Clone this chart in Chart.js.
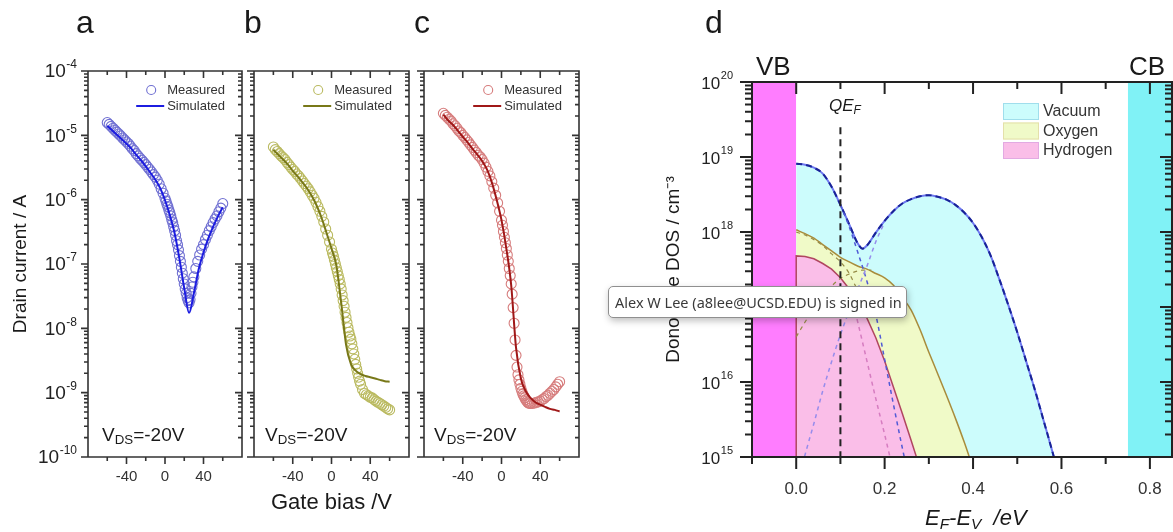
<!DOCTYPE html>
<html>
<head>
<meta charset="utf-8">
<title>Transfer curves and donor-like DOS</title>
<script src="https://cdn.jsdelivr.net/npm/chart.js@4.4.1/dist/chart.umd.min.js"></script>
<style>
  body { margin: 0; background: #fff; }
  #fig { position: relative; width: 1173px; height: 532px; overflow: hidden; font-family: "Liberation Sans", Arial, sans-serif; color: #1a1a1a; }
  #fig canvas { position: absolute; left: 0; top: 0; }
  .txt { position: absolute; line-height: 1; white-space: nowrap; }
  .txt sub { font-size: 70%; vertical-align: -0.25em; line-height: 0; }
  #signin { position: absolute; left: 608px; top: 286px; width: 299px; height: 32px; box-sizing: border-box;
            border: 1px solid #8f8f8f; border-radius: 5px; background: #fff; box-shadow: 1px 3px 7px rgba(0,0,0,0.25);
            font-family: "Noto Sans", sans-serif; font-size: 14.5px; color: #3a3a3a; line-height: 30px; padding-left: 6px;
            white-space: nowrap; overflow: hidden; z-index: 5; }
</style>
</head>
<body>
<div id="fig">
  <canvas id="chartD" width="1173" height="532"></canvas>
  <canvas id="chartA" width="1173" height="532"></canvas>
  <canvas id="chartB" width="1173" height="532"></canvas>
  <canvas id="chartC" width="1173" height="532"></canvas>

  <div class="txt" style="left:76px;top:6px;font-size:32px">a</div>
  <div class="txt" style="left:244px;top:6px;font-size:32px">b</div>
  <div class="txt" style="left:414px;top:6px;font-size:32px">c</div>
  <div class="txt" style="left:705px;top:6px;font-size:32px">d</div>

  <div class="txt" style="left:102px;top:425px;font-size:19px">V<sub>DS</sub>=-20V</div>
  <div class="txt" style="left:265px;top:425px;font-size:19px">V<sub>DS</sub>=-20V</div>
  <div class="txt" style="left:434px;top:425px;font-size:19px">V<sub>DS</sub>=-20V</div>

  <div class="txt" style="left:756px;top:53px;font-size:26px">VB</div>
  <div class="txt" style="left:1129px;top:53px;font-size:26px">CB</div>
  <div class="txt" style="left:829px;top:97px;font-size:17px;font-style:italic">QE<sub>F</sub></div>
  <div class="txt" style="left:925px;top:507px;font-size:22px;font-style:italic">E<sub>F</sub>-E<sub>V</sub>&nbsp; /eV</div>

  <div id="signin">Alex W Lee (a8lee@UCSD.EDU) is signed in</div>
</div>

<script>
var FONT = '"Liberation Sans", Arial, sans-serif';
Chart.defaults.font.family = FONT;

// ---- panels a-c: transfer curves ----
var gateV = [-60,-58,-56,-54,-52,-50,-48,-46,-44,-42,
             -40,-38,-36,-34,-32,-30,-28,-26,-24,-22,
             -20,-18,-16,-14,-12,-10,-8,-6,-4,-2,
             0,1,2,3,4,5,6,7,8,9,
             10,11,12,13,14,15,16,17,18,19,
             20,21,22,23,24,25,26,27,28,29,
             30,32,34,36,38,40,42,44,46,48,
             50,52,54,56,58,60];
var simV = [-60,-55,-50,-45,-40,-35,-30,-25,-20,-15,-10,-5,0,5,10,15,20,25,30,35,40,45,50,55,60];

var measuredA = [1.58e-5,1.48e-5,1.38e-5,1.29e-5,1.20e-5,1.12e-5,1.05e-5,9.8e-6,9.1e-6,8.5e-6,
                 7.9e-6,7.4e-6,6.8e-6,6.2e-6,5.8e-6,5.2e-6,4.8e-6,4.4e-6,4.1e-6,3.8e-6,
                 3.5e-6,3.2e-6,2.95e-6,2.69e-6,2.45e-6,2.24e-6,2.0e-6,1.74e-6,1.48e-6,1.26e-6,
                 1.05e-6,9.5e-7,8.5e-7,7.8e-7,6.9e-7,6.3e-7,5.6e-7,4.9e-7,4.4e-7,3.8e-7,
                 3.3e-7,2.8e-7,2.3e-7,2.0e-7,1.66e-7,1.35e-7,1.10e-7,8.9e-8,7.2e-8,5.9e-8,
                 4.9e-8,4.1e-8,3.5e-8,3.0e-8,2.7e-8,2.5e-8,2.8e-8,3.5e-8,4.4e-8,5.2e-8,
                 6.3e-8,8.5e-8,1.10e-7,1.38e-7,1.70e-7,2.0e-7,2.4e-7,2.8e-7,3.3e-7,3.8e-7,
                 4.4e-7,5.0e-7,5.6e-7,6.5e-7,7.4e-7,8.7e-7];
var simulatedA = [1.41e-5,1.20e-5,1.02e-5,8.7e-6,7.4e-6,6.2e-6,5.0e-6,4.1e-6,3.3e-6,2.6e-6,2.04e-6,1.51e-6,
                  9.8e-7,5.75e-7,3.0e-7,1.20e-7,4.2e-8,1.74e-8,3.5e-8,8.3e-8,1.51e-7,2.5e-7,3.8e-7,5.5e-7,7.6e-7];

var measuredB = [6.6e-6,6.0e-6,5.6e-6,5.2e-6,4.8e-6,4.5e-6,4.2e-6,3.8e-6,3.5e-6,3.2e-6,
                 2.95e-6,2.75e-6,2.5e-6,2.34e-6,2.14e-6,1.95e-6,1.78e-6,1.62e-6,1.48e-6,1.32e-6,
                 1.17e-6,1.05e-6,9.1e-7,7.8e-7,6.6e-7,5.5e-7,4.5e-7,3.5e-7,2.8e-7,2.2e-7,
                 1.70e-7,1.48e-7,1.32e-7,1.15e-7,1.0e-7,8.7e-8,7.6e-8,6.6e-8,5.75e-8,4.9e-8,
                 4.1e-8,3.3e-8,2.7e-8,2.2e-8,1.78e-8,1.48e-8,1.23e-8,1.02e-8,8.7e-9,7.6e-9,
                 6.8e-9,5.75e-9,4.8e-9,4.0e-9,3.3e-9,2.75e-9,2.34e-9,2.0e-9,1.74e-9,1.51e-9,
                 1.35e-9,1.12e-9,9.8e-10,9.3e-10,8.9e-10,8.5e-10,8.3e-10,7.8e-10,7.4e-10,7.1e-10,
                 6.8e-10,6.5e-10,6.2e-10,5.9e-10,5.6e-10,5.4e-10];
var simulatedB = [6.0e-6,5.0e-6,4.2e-6,3.5e-6,2.8e-6,2.3e-6,1.86e-6,1.48e-6,1.12e-6,7.9e-7,5.1e-7,3.0e-7,
                  1.74e-7,9.5e-8,2.5e-8,5.6e-9,2.8e-9,2.2e-9,1.95e-9,1.82e-9,1.74e-9,1.66e-9,1.58e-9,1.51e-9,1.48e-9];

var measuredC = [2.2e-5,2.04e-5,1.91e-5,1.78e-5,1.66e-5,1.51e-5,1.41e-5,1.29e-5,1.17e-5,1.10e-5,
                 1.0e-5,9.3e-6,8.5e-6,7.8e-6,7.1e-6,6.5e-6,5.9e-6,5.4e-6,4.9e-6,4.6e-6,
                 4.2e-6,3.7e-6,3.2e-6,2.75e-6,2.34e-6,1.91e-6,1.51e-6,1.17e-6,8.9e-7,6.6e-7,
                 4.8e-7,4.0e-7,3.2e-7,2.6e-7,2.14e-7,1.74e-7,1.38e-7,1.10e-7,8.5e-8,6.6e-8,
                 4.9e-8,3.4e-8,2.1e-8,1.20e-8,6.6e-9,3.8e-9,2.5e-9,1.9e-9,1.58e-9,1.35e-9,
                 1.17e-9,1.05e-9,9.5e-10,8.9e-10,8.3e-10,7.8e-10,7.4e-10,7.1e-10,6.9e-10,6.8e-10,
                 6.8e-10,6.8e-10,6.9e-10,7.1e-10,7.2e-10,7.4e-10,7.8e-10,8.1e-10,8.7e-10,9.1e-10,
                 9.8e-10,1.05e-9,1.12e-9,1.23e-9,1.35e-9,1.48e-9];
var simulatedC = [2.1e-5,1.70e-5,1.45e-5,1.17e-5,9.5e-6,7.8e-6,6.2e-6,5.0e-6,4.0e-6,2.95e-6,1.86e-6,1.0e-6,
                  4.8e-7,1.74e-7,4.7e-8,5.0e-9,1.66e-9,1.05e-9,8.3e-10,7.1e-10,6.5e-10,6.0e-10,5.6e-10,5.4e-10,5.1e-10];

var gateTicks = [-40, 0, 40];
var gateMinor = [-60, -20, 20, 60];
var currentTicks = [1e-10, 1e-9, 1e-8, 1e-7, 1e-6, 1e-5, 1e-4];

// ---- panel d: donor-like DOS ----
var vacuumE = [0,0.02,0.04,0.06,0.08,0.10,0.12,0.14,0.15,0.16,0.18,0.20,0.22,0.24,0.26,0.28,
               0.30,0.32,0.34,0.36,0.38,0.40,0.42,0.44,0.46,0.48,0.50,0.52,0.54,0.56,0.58,0.60];
var vacuumDOS = [8.1e18,7.9e18,7.2e18,6.0e18,4.0e18,2.3e18,1.26e18,6.9e17,6.0e17,6.6e17,9.8e17,1.41e18,1.91e18,2.4e18,2.75e18,3.0e18,
                 3.1e18,2.95e18,2.7e18,2.3e18,1.82e18,1.32e18,8.5e17,4.8e17,2.3e17,1.05e17,4.6e16,1.9e16,7.8e15,3.0e15,1.15e15,4.2e14];
var vacShallowE = [0.10,0.12,0.14,0.16,0.18,0.20,0.22,0.24,0.25];
var vacShallowDOS = [2.3e18,1.17e18,5.2e17,2.2e17,7.9e16,2.0e16,5.0e15,1.32e15,7.1e14];
var vacDeepE = [0.01,0.02,0.04,0.06,0.08,0.10,0.12,0.14,0.16,0.18,0.20];
var vacDeepDOS = [6.3e14,1.07e15,2.8e15,7.6e15,1.86e16,4.3e16,8.9e16,1.78e17,3.5e17,7.4e17,1.35e18];

var oxygenE = [0,0.02,0.04,0.06,0.08,0.10,0.12,0.14,0.16,0.18,0.20,0.22,0.24,0.26,0.28,0.30,0.32,0.34,0.36,0.38,0.40];
var oxygenDOS = [1.07e18,9.5e17,8.3e17,6.8e17,5.6e17,4.6e17,4.0e17,3.5e17,3.2e17,2.8e17,2.45e17,
                 1.95e17,1.35e17,9.1e16,5.0e16,2.5e16,1.29e16,6.6e15,3.3e15,1.58e15,7.1e14];
var oxyShallowE = [0,0.02,0.04,0.06,0.08,0.10,0.12,0.14];
var oxyShallowDOS = [1.0e18,9.1e17,7.9e17,6.6e17,5.1e17,4.0e17,2.8e17,1.6e17];
var oxyDeepE = [0,0.02,0.05,0.08,0.10,0.12,0.15,0.17];
var oxyDeepDOS = [4.0e16,6.3e16,1.2e17,1.9e17,2.4e17,2.75e17,3.1e17,3.1e17];

var hydrogenE = [0,0,0.02,0.04,0.06,0.08,0.10,0.12,0.14,0.16,0.18,0.20,0.22,0.24,0.26,0.28];
var hydrogenDOS = [1e15,4.8e17,4.7e17,4.4e17,3.8e17,3.2e17,2.45e17,1.74e17,1.15e17,7.1e16,3.9e16,1.9e16,8.5e15,3.8e15,1.66e15,7.1e14];
var hydTailE = [0.12,0.14,0.16,0.18,0.20,0.22];
var hydTailDOS = [1.78e17,6.0e16,1.9e16,6.0e15,2.0e15,6.3e14];

var qefE = [0.1, 0.1];
var qefDOS = [2.5e19, 1e15];
var vbE = [-0.1, 0];
var cbE = [0.75, 0.85];
var bandTop = [1e20, 1e20];

var energyTicks = [0, 0.2, 0.4, 0.6, 0.8];
var energyMinor = [-0.1, 0.1, 0.3, 0.5, 0.7];
var dosTicks = [1e15, 1e16, 1e17, 1e18, 1e19, 1e20];

function pts(xs, ys) {
  return xs.map(function (x, i) { return { x: x, y: ys[i] }; });
}

// box frame with Origin-style ticks (out on left/bottom, in on right/top) and 10^n labels
function axesFrame(cfg) {
  return {
    id: 'axesFrame',
    afterDatasetsDraw: function (chart) {
      var ctx = chart.ctx, a = chart.chartArea, sx = chart.scales.x, sy = chart.scales.y;
      ctx.save();
      ctx.strokeStyle = cfg.color;
      ctx.lineWidth = cfg.width;
      ctx.beginPath();
      ctx.rect(a.left, a.top, a.right - a.left, a.bottom - a.top);
      var yTick = function (v, len) {
        var p = sy.getPixelForValue(v);
        ctx.moveTo(a.left - len, p); ctx.lineTo(a.left, p);
        ctx.moveTo(a.right - len, p); ctx.lineTo(a.right, p);
      };
      var xTick = function (v, len) {
        var p = sx.getPixelForValue(v);
        ctx.moveTo(p, a.bottom); ctx.lineTo(p, a.bottom + len);
        ctx.moveTo(p, a.top); ctx.lineTo(p, a.top + len);
      };
      cfg.yMajor.forEach(function (v) { yTick(v, cfg.major); });
      for (var i = 0; i < cfg.yMajor.length - 1; i++) {
        for (var m = 2; m < 10; m++) yTick(cfg.yMajor[i] * m, cfg.minor);
      }
      cfg.xMajor.forEach(function (v) { xTick(v, cfg.major); });
      cfg.xMinor.forEach(function (v) { xTick(v, cfg.minor); });
      ctx.stroke();

      if (cfg.labels) {
        ctx.fillStyle = '#222';
        ctx.textAlign = 'right';
        ctx.textBaseline = 'middle';
        cfg.yMajor.forEach(function (v) {
          var py = sy.getPixelForValue(v);
          var exp = String(Math.round(Math.log10(v)));
          var xr = a.left - cfg.gap;
          ctx.font = cfg.supSize + 'px ' + FONT;
          var w = ctx.measureText(exp).width;
          ctx.fillText(exp, xr, py - cfg.supRise);
          ctx.font = cfg.labelSize + 'px ' + FONT;
          ctx.fillText('10', xr - w - 0.5, py + cfg.baseDrop);
        });
      }
      ctx.restore();
    }
  };
}

var transferKey = {
  id: 'transferKey',
  afterDatasetsDraw: function (chart) {
    var ctx = chart.ctx, a = chart.chartArea;
    var sim = chart.data.datasets[0], meas = chart.data.datasets[1];
    ctx.save();
    ctx.font = '13px ' + FONT;
    ctx.fillStyle = '#333';
    ctx.textBaseline = 'middle';
    ctx.textAlign = 'left';
    var w = Math.max(ctx.measureText(meas.label).width, ctx.measureText(sim.label).width);
    var tx = a.right - 17 - w;
    var y1 = a.top + 19, y2 = a.top + 35;
    ctx.fillText(meas.label, tx, y1);
    ctx.fillText(sim.label, tx, y2);
    ctx.strokeStyle = meas.borderColor;
    ctx.lineWidth = 1.1;
    ctx.beginPath(); ctx.arc(tx - 16, y1, 4.5, 0, Math.PI * 2); ctx.stroke();
    ctx.strokeStyle = sim.borderColor;
    ctx.lineWidth = 2;
    ctx.beginPath(); ctx.moveTo(tx - 31, y2); ctx.lineTo(tx - 3, y2); ctx.stroke();
    ctx.restore();
  }
};

var dosKey = {
  id: 'dosKey',
  afterDatasetsDraw: function (chart) {
    var ctx = chart.ctx, a = chart.chartArea;
    var names = ['Vacuum', 'Oxygen', 'Hydrogen'];
    var edges = ['rgb(160,222,236)', 'rgb(228,224,170)', 'rgb(226,170,226)'];
    ctx.save();
    ctx.font = '16px ' + FONT;
    ctx.textBaseline = 'middle';
    names.forEach(function (name, i) {
      var ds = chart.data.datasets.filter(function (d) { return d.label === name; })[0];
      var bx = a.left + 251, by = a.top + 21 + i * 19.5;
      ctx.fillStyle = ds.backgroundColor;
      ctx.fillRect(bx, by, 36, 17);
      ctx.strokeStyle = edges[i];
      ctx.lineWidth = 1;
      ctx.strokeRect(bx + 0.5, by + 0.5, 35, 16);
      ctx.fillStyle = '#333';
      ctx.fillText(name, bx + 40, by + 9);
    });
    ctx.restore();
  }
};

// fixed axis box: no extra side padding for edge labels
function fixHeight(h) {
  return function (s) { s.height = h; s.paddingLeft = 0; s.paddingRight = 0; };
}

function transferChart(id, p) {
  return new Chart(document.getElementById(id), {
    type: 'scatter',
    data: {
      datasets: [
        { label: 'Simulated', data: pts(simV, p.simulated), showLine: true, borderColor: p.line, borderWidth: 2,
          pointRadius: 0, cubicInterpolationMode: 'monotone', order: 0 },
        { label: 'Measured', data: pts(gateV, p.measured), showLine: false, borderColor: p.dot,
          backgroundColor: 'rgba(255,255,255,0)', pointRadius: 5, pointBorderWidth: 1.1, order: 1 }
      ]
    },
    options: {
      responsive: false,
      animation: false,
      events: [],
      layout: { autoPadding: false, padding: { left: p.left - p.yw, top: 71, right: 1173 - p.right, bottom: 0 } },
      plugins: { legend: { display: false }, tooltip: { enabled: false } },
      scales: {
        x: {
          type: 'linear', min: -80, max: 80,
          afterBuildTicks: function (s) { s.ticks = gateTicks.map(function (v) { return { value: v }; }); },
          afterFit: fixHeight(532 - 457),
          grid: { display: false, drawTicks: false },
          border: { display: false },
          ticks: { color: '#333', font: { size: 15 }, padding: 11, maxRotation: 0, autoSkip: false },
          title: p.xTitle ? { display: true, text: p.xTitle, color: '#1a1a1a', font: { size: 22 }, padding: { top: 0, bottom: 16 } }
                          : { display: false }
        },
        y: {
          type: 'logarithmic', min: 1e-10, max: 1e-4,
          afterFit: function (s) { s.width = p.yw; },
          grid: { display: false, drawTicks: false },
          border: { display: false },
          ticks: { display: false },
          title: p.yTitle ? { display: true, text: p.yTitle, color: '#1a1a1a', font: { size: 19 }, padding: { top: 9, bottom: 0 } }
                          : { display: false }
        }
      }
    },
    plugins: [
      axesFrame({ color: '#333', width: 1.6, major: 7, minor: 4, xMajor: gateTicks, xMinor: gateMinor, yMajor: currentTicks,
                  labels: p.labels, labelSize: 19, supSize: 12, gap: 11, supRise: 6, baseDrop: 1 }),
      transferKey
    ]
  });
}

transferChart('chartA', { left: 88, right: 242, yw: 88, measured: measuredA, simulated: simulatedA,
                          line: 'rgb(28,28,224)', dot: 'rgb(112,112,210)', labels: true, yTitle: 'Drain current / A' });
transferChart('chartB', { left: 254, right: 409, yw: 10, measured: measuredB, simulated: simulatedB,
                          line: 'rgb(120,120,24)', dot: 'rgb(186,186,96)', labels: false, xTitle: 'Gate bias /V' });
transferChart('chartC', { left: 424, right: 579, yw: 10, measured: measuredC, simulated: simulatedC,
                          line: 'rgb(160,24,24)', dot: 'rgb(214,124,124)', labels: false });

function dosLine(label, xs, ys, extra) {
  return Object.assign({ label: label, data: pts(xs, ys), showLine: true, pointRadius: 0, fill: false, borderWidth: 1.5 }, extra);
}

new Chart(document.getElementById('chartD'), {
  type: 'scatter',
  data: {
    datasets: [
      dosLine('QEF', qefE, qefDOS, { borderColor: '#222', borderWidth: 2, borderDash: [7, 5], order: 0 }),
      dosLine('Hydrogen tail', hydTailE, hydTailDOS, { borderColor: 'rgb(214,124,192)', borderDash: [4, 4], cubicInterpolationMode: 'monotone', order: 1 }),
      dosLine('Vacuum deep', vacDeepE, vacDeepDOS, { borderColor: 'rgb(150,140,236)', borderDash: [4, 4], cubicInterpolationMode: 'monotone', order: 2 }),
      dosLine('Vacuum shallow', vacShallowE, vacShallowDOS, { borderColor: 'rgb(80,90,214)', borderDash: [4, 4], cubicInterpolationMode: 'monotone', order: 3 }),
      dosLine('Oxygen shallow', oxyShallowE, oxyShallowDOS, { borderColor: 'rgb(150,140,70)', borderWidth: 1.2, borderDash: [4, 4], cubicInterpolationMode: 'monotone', order: 4 }),
      dosLine('Oxygen deep', oxyDeepE, oxyDeepDOS, { borderColor: 'rgb(150,140,70)', borderWidth: 1.2, borderDash: [4, 4], cubicInterpolationMode: 'monotone', order: 5 }),
      dosLine('Vacuum sum', vacuumE, vacuumDOS, { borderColor: 'rgb(25,35,150)', borderWidth: 2, borderDash: [6, 4], cubicInterpolationMode: 'monotone', order: 6 }),
      dosLine('Hydrogen', hydrogenE, hydrogenDOS, { borderColor: 'rgb(176,70,96)', backgroundColor: 'rgb(250,190,232)', fill: 'start', order: 7 }),
      dosLine('Oxygen', oxygenE, oxygenDOS, { borderColor: 'rgb(168,140,60)', backgroundColor: 'rgb(240,250,200)', fill: 'start', cubicInterpolationMode: 'monotone', order: 8 }),
      dosLine('Vacuum', vacuumE, vacuumDOS, { borderColor: 'rgb(110,120,240)', borderWidth: 2, backgroundColor: 'rgb(204,252,252)', fill: 'start', cubicInterpolationMode: 'monotone', order: 9 }),
      dosLine('VB', vbE, bandTop, { borderColor: 'rgba(0,0,0,0)', borderWidth: 1, backgroundColor: 'rgb(255,125,255)', fill: 'start', order: 10 }),
      dosLine('CB', cbE, bandTop, { borderColor: 'rgba(0,0,0,0)', borderWidth: 1, backgroundColor: 'rgb(128,242,246)', fill: 'start', order: 10 })
    ]
  },
  options: {
    responsive: false,
    animation: false,
    events: [],
    layout: { autoPadding: false, padding: { left: 752 - 100, top: 82, right: 1173 - 1172, bottom: 0 } },
    plugins: { legend: { display: false }, tooltip: { enabled: false } },
    scales: {
      x: {
        type: 'linear', min: -0.1, max: 0.85,
        afterBuildTicks: function (s) { s.ticks = energyTicks.map(function (v) { return { value: v }; }); },
        afterFit: fixHeight(532 - 457),
        grid: { display: false, drawTicks: false },
        border: { display: false },
        ticks: { color: '#333', font: { size: 17 }, padding: 22, maxRotation: 0, autoSkip: false,
                 callback: function (v) { return Number(v).toFixed(1); } }
      },
      y: {
        type: 'logarithmic', min: 1e15, max: 1e20,
        afterFit: function (s) { s.width = 100; },
        grid: { display: false, drawTicks: false },
        border: { display: false },
        ticks: { display: false },
        title: { display: true, text: 'Donor-like DOS / cm\u207B\u00B3', color: '#1a1a1a', font: { size: 19 }, padding: { top: 10, bottom: 0 } }
      }
    }
  },
  plugins: [
    axesFrame({ color: '#222', width: 2, major: 12, minor: 7, xMajor: energyTicks, xMinor: energyMinor, yMajor: dosTicks,
                labels: true, labelSize: 17, supSize: 11, gap: 19, supRise: 6, baseDrop: 2 }),
    dosKey
  ]
});
</script>
</body>
</html>
